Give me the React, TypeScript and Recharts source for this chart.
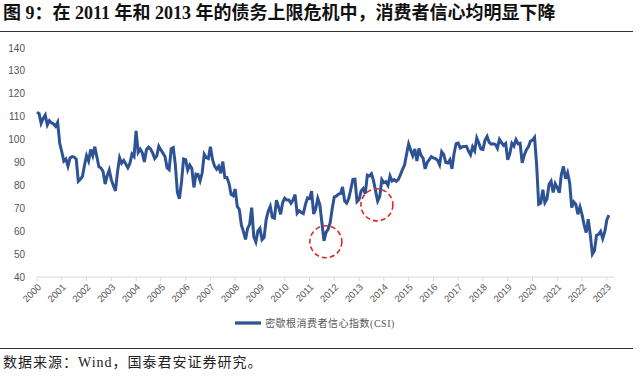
import React from 'react';
import { LineChart, Line, XAxis, YAxis, Legend, ReferenceDot } from 'recharts';

// University of Michigan consumer sentiment, monthly (Jan..Dec)
const years = [2000, 2001, 2002, 2003, 2004, 2005, 2006, 2007, 2008, 2009, 2010, 2011, 2012, 2013, 2014, 2015, 2016, 2017, 2018, 2019, 2020, 2021, 2022, 2023];
const csi2000 = [112.0, 111.3, 107.1, 109.2, 110.7, 106.4, 108.3, 107.3, 106.8, 105.8, 107.6, 98.4];
const csi2001 = [94.7, 90.6, 91.5, 88.4, 92.0, 92.6, 92.4, 91.5, 81.8, 82.7, 83.9, 88.8];
const csi2002 = [93.0, 90.7, 95.7, 93.0, 96.9, 92.4, 88.1, 87.6, 86.1, 80.6, 84.2, 86.7];
const csi2003 = [82.4, 79.9, 77.6, 86.0, 92.1, 89.7, 90.9, 89.3, 87.7, 89.6, 93.7, 92.6];
const csi2004 = [103.8, 94.4, 95.8, 94.2, 90.2, 95.6, 96.7, 95.9, 94.2, 91.7, 92.8, 97.1];
const csi2005 = [95.5, 94.1, 92.6, 87.7, 86.9, 96.0, 96.5, 89.1, 76.9, 74.2, 81.6, 91.5];
const csi2006 = [91.2, 86.7, 88.9, 87.4, 79.1, 84.9, 84.7, 82.0, 85.4, 93.6, 92.1, 91.7];
const csi2007 = [96.9, 91.3, 88.4, 87.1, 88.3, 85.3, 90.4, 83.4, 83.4, 80.9, 76.1, 75.5];
const csi2008 = [78.4, 70.8, 69.5, 62.6, 59.8, 56.4, 61.2, 63.0, 70.3, 57.6, 55.3, 60.1];
const csi2009 = [61.2, 56.3, 57.3, 65.1, 68.7, 70.8, 66.0, 65.7, 73.5, 70.6, 67.4, 72.5];
const csi2010 = [74.4, 73.6, 73.6, 72.2, 73.6, 76.0, 67.8, 68.9, 68.2, 67.7, 71.6, 74.5];
const csi2011 = [74.2, 77.5, 67.5, 69.8, 74.3, 71.5, 63.7, 55.8, 59.5, 60.8, 63.7, 69.9];
const csi2012 = [75.0, 75.3, 76.2, 76.4, 79.3, 73.2, 72.3, 74.3, 78.3, 82.6, 82.7, 72.9];
const csi2013 = [73.8, 77.6, 78.6, 76.4, 84.5, 84.1, 85.1, 82.1, 77.5, 73.2, 75.1, 82.5];
const csi2014 = [81.2, 81.6, 80.0, 84.1, 81.9, 82.5, 81.8, 82.5, 84.6, 86.9, 88.8, 93.6];
const csi2015 = [98.1, 95.4, 93.0, 95.9, 90.7, 96.1, 93.1, 91.9, 87.2, 90.0, 91.3, 92.6];
const csi2016 = [92.0, 91.7, 91.0, 89.0, 94.7, 93.5, 90.0, 89.8, 91.2, 87.2, 93.8, 98.2];
const csi2017 = [98.5, 96.3, 96.9, 97.0, 97.1, 95.0, 93.4, 96.8, 95.1, 100.7, 98.5, 95.9];
const csi2018 = [95.7, 99.7, 101.4, 98.8, 98.0, 98.2, 97.9, 96.2, 100.1, 98.6, 97.5, 98.3];
const csi2019 = [91.2, 93.8, 98.4, 97.2, 100.0, 98.2, 98.4, 89.8, 93.2, 95.5, 96.8, 99.3];
const csi2020 = [99.8, 101.0, 89.1, 71.8, 72.3, 78.1, 72.5, 74.1, 80.4, 81.8, 76.9, 80.7];
const csi2021 = [79.0, 76.8, 84.9, 88.3, 82.9, 85.5, 81.2, 70.3, 72.8, 71.7, 67.4, 70.6];
const csi2022 = [67.2, 62.8, 59.4, 65.2, 58.4, 50.0, 51.5, 58.2, 58.6, 59.9, 56.8, 59.7];
const csi2023 = [64.9, 67.0];

const csiByYear = [csi2000, csi2001, csi2002, csi2003, csi2004, csi2005, csi2006, csi2007, csi2008, csi2009, csi2010, csi2011, csi2012, csi2013, csi2014, csi2015, csi2016, csi2017, csi2018, csi2019, csi2020, csi2021, csi2022, csi2023];

const yTicks = [40, 50, 60, 70, 80, 90, 100, 110, 120, 130, 140];

// debt-ceiling crisis markers (year, index level)
const dips = [
  { x: 2011.66, y: 55.4 },
  { x: 2013.72, y: 71.5 },
];

const data = csiByYear.flatMap((vals, i) =>
  vals.map((v, m) => ({ t: years[i] + m / 12, csi: v }))
);

const serif = '"Liberation Serif", "Noto Sans CJK SC", serif';
const sans = '"Liberation Sans", Arial, sans-serif';

export default function App() {
  return (
    <div style={{ position: 'absolute', left: 0, top: 0, width: 640, height: 377, background: '#fff', overflow: 'hidden' }}>
      <div style={{ position: 'absolute', left: 3, top: 3, height: 20, lineHeight: '20px', fontFamily: serif, fontWeight: 'bold', fontSize: 18, color: '#111', whiteSpace: 'nowrap' }}>
        图 9：在 2011 年和 2013 年的债务上限危机中，消费者信心均明显下降
      </div>
      <div style={{ position: 'absolute', left: 0, top: 31, width: 633, borderTop: '1.5px solid #333' }} />

      <LineChart width={640} height={377} data={data} margin={{ top: 48, right: 25, left: 7, bottom: 60 }}>
        <XAxis
          dataKey="t"
          type="number"
          domain={[2000, 2023.33]}
          ticks={years}
          interval={0}
          height={40}
          stroke="#d9d9d9"
          tickSize={4}
          tickMargin={2}
          angle={-45}
          textAnchor="end"
          tick={{ fill: '#555', fontSize: 9.5, fontFamily: sans }}
        />
        <YAxis
          domain={[40, 140]}
          ticks={yTicks}
          width={30}
          axisLine={false}
          tickLine={false}
          tickMargin={6}
          tick={{ fill: '#555', fontSize: 10, fontFamily: sans }}
        />
        <Legend
          verticalAlign="middle"
          align="center"
          iconType="plainline"
          iconSize={26}
          wrapperStyle={{ top: 310, left: 0, width: 640 }}
          formatter={(value: string) => (
            <span style={{ color: '#555', fontSize: 10, fontFamily: serif, letterSpacing: 0.5 }}>{value}</span>
          )}
        />
        <Line
          type="linear"
          dataKey="csi"
          name="密歇根消费者信心指数(CSI)"
          stroke="#2E5395"
          strokeWidth={3}
          dot={false}
          isAnimationActive={false}
        />
        {dips.map((d, i) => (
          <ReferenceDot key={i} x={d.x} y={d.y} r={16} fill="none" stroke="#E02B2B" strokeWidth={1.6} strokeDasharray="5 3" />
        ))}
      </LineChart>

      <div style={{ position: 'absolute', left: 0, top: 348, width: 633, borderTop: '1.5px solid #333' }} />
      <div style={{ position: 'absolute', left: 3, top: 353, height: 20, lineHeight: '20px', fontFamily: serif, fontSize: 14, letterSpacing: 1, color: '#222', whiteSpace: 'nowrap' }}>
        数据来源：Wind，国泰君安证券研究。
      </div>
    </div>
  );
}
